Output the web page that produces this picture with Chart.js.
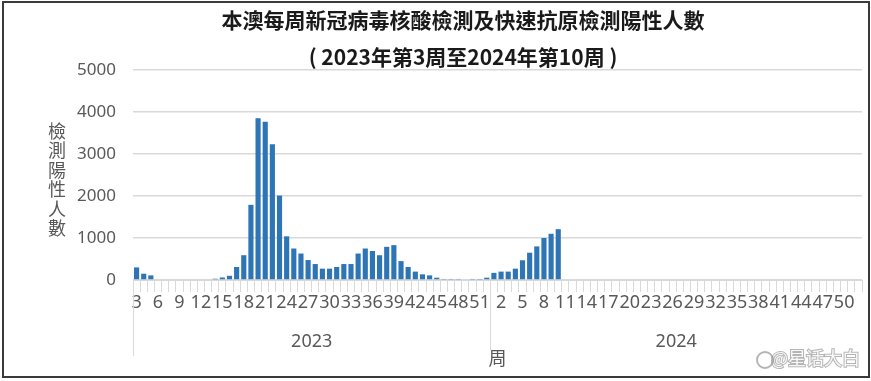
<!DOCTYPE html>
<html>
<head>
<meta charset="utf-8">
<script src="https://cdn.jsdelivr.net/npm/chart.js@4/dist/chart.umd.min.js"></script>
<style>
  html, body { margin: 0; padding: 0; background: #fff; }
  canvas { display: block; }
</style>
</head>
<body>
<canvas id="c" width="871" height="381"></canvas>
<script>
// Weekly positive counts (nucleic acid + rapid antigen tests), Macao
const weeks2023 = ['3','4','5','6','7','8','9','10','11','12','13','14','15','16','17','18','19','20','21','22','23','24','25','26','27','28','29','30','31','32','33','34','35','36','37','38','39','40','41','42','43','44','45','46','47','48','49','50','51','52'];
const weeks2024 = ['1','2','3','4','5','6','7','8','9','10','11','12','13','14','15','16','17','18','19','20','21','22','23','24','25','26','27','28','29','30','31','32','33','34','35','36','37','38','39','40','41','42','43','44','45','46','47','48','49','50','51','52'];

const positives2023 = [300, 150, 110, 0, 0, 0, 0, 0, 0, 0, 0, 30, 60, 100, 310, 590, 1790, 3850, 3770, 3230,
                       2010, 1040, 750, 630, 475, 380, 270, 270, 310, 380, 380, 630, 750, 690, 590, 790, 830, 450, 310, 200,
                       135, 110, 55, 25, 25, 25, 0, 25, 25, 55];
const positives2024 = [170, 200, 200, 270, 470, 650, 800, 1000, 1100, 1210];

const years = ['2023', '2024'];
const yMax = 5000;
const yStep = 1000;

const titleLines = ['本澳每周新冠病毒核酸檢測及快速抗原檢測陽性人數', '( 2023年第3周至2024年第10周 )'];
const yTitle = '檢測陽性人數';
const xTitle = '周';

const labels = weeks2023.concat(weeks2024);
const values = positives2023.concat(positives2024);
const groups = [weeks2023.length, weeks2024.length];

const CJK = '"Noto Sans CJK TC", "Noto Sans CJK SC", sans-serif';
const NUM = '"Noto Sans", "Liberation Sans", sans-serif';
const GRAY = '#595959';
const LINE = '#d9d9d9';

// Frame, titles, vertical axis title, year group row and divider lines
const decorations = {
  id: 'decorations',
  beforeDraw(chart) {
    const ctx = chart.ctx;
    ctx.save();
    ctx.fillStyle = '#fff';
    ctx.fillRect(0, 0, chart.width, chart.height);
    ctx.restore();
  },
  afterDraw(chart) {
    const ctx = chart.ctx;
    const xs = chart.scales.x;
    const area = chart.chartArea;
    ctx.save();

    // title block
    ctx.fillStyle = '#1a1a1a';
    ctx.textAlign = 'center';
    ctx.textBaseline = 'middle';
    ctx.font = 'bold 21px ' + CJK;
    ctx.fillText(titleLines[0], 463, 20);
    ctx.fillText(titleLines[1], 463, 57);

    // stacked vertical y-axis title
    ctx.fillStyle = GRAY;
    ctx.font = '18px ' + CJK;
    [...yTitle].forEach((ch, i) => ctx.fillText(ch, 57, 131 + i * 19.5));

    // group row: dividers and year labels
    ctx.strokeStyle = LINE;
    ctx.lineWidth = 1;
    const step = xs.getPixelForValue(1) - xs.getPixelForValue(0);
    let start = 0;
    const lineBottom = area.bottom + 76;
    const edges = [];
    groups.forEach((n) => {
      const a = xs.getPixelForValue(start) - step / 2;
      const b = xs.getPixelForValue(start + n - 1) + step / 2;
      edges.push([a, b]);
      start += n;
    });
    ctx.beginPath();
    ctx.moveTo(Math.round(edges[0][0]) + 0.5, area.bottom);
    ctx.lineTo(Math.round(edges[0][0]) + 0.5, lineBottom);
    ctx.moveTo(Math.round(edges[1][0]) + 0.5, area.bottom);
    ctx.lineTo(Math.round(edges[1][0]) + 0.5, lineBottom - 6);
    ctx.stroke();

    ctx.fillStyle = GRAY;
    ctx.font = '18px ' + NUM;
    edges.forEach(([a, b], i) => ctx.fillText(years[i], (a + b) / 2, area.bottom + 62));

    // watermark
    ctx.font = '18px ' + CJK;
    ctx.textAlign = 'right';
    ctx.lineWidth = 2;
    ctx.strokeStyle = 'rgba(120,120,120,0.55)';
    ctx.strokeText('@星话大白', 860, 358);
    ctx.fillStyle = 'rgba(255,255,255,0.9)';
    ctx.fillText('@星话大白', 860, 358);
    ctx.beginPath();
    ctx.strokeStyle = 'rgba(120,120,120,0.55)';
    ctx.arc(765, 360, 8, 0, Math.PI * 2);
    ctx.stroke();

    // outer frame
    ctx.strokeStyle = '#3a3a3a';
    ctx.lineWidth = 2;
    ctx.strokeRect(3, 2, chart.width - 5, chart.height - 6);
    ctx.restore();
  }
};

new Chart(document.getElementById('c'), {
  type: 'bar',
  data: {
    labels: labels,
    datasets: [{
      data: values,
      backgroundColor: '#2e75b6',
      barPercentage: 0.72,
      categoryPercentage: 1.0
    }]
  },
  options: {
    responsive: false,
    animation: false,
    devicePixelRatio: 1,
    layout: { padding: { top: 70, right: 9, left: 0, bottom: 0 } },
    plugins: {
      legend: { display: false },
      tooltip: { enabled: false },
      title: { display: false }
    },
    scales: {
      x: {
        offset: true,
        grid: { offset: true, drawOnChartArea: false, tickLength: 12, color: LINE, lineWidth: 1 },
        border: { display: true, color: LINE },
        ticks: {
          autoSkip: false,
          maxRotation: 0,
          minRotation: 0,
          padding: 0,
          color: GRAY,
          font: { family: NUM, size: 18 },
          callback: (v, i) => (i % 3 === 0 ? labels[i] : '')
        },
        title: {
          display: true,
          text: xTitle,
          color: GRAY,
          font: { family: CJK, size: 18 },
          padding: { top: 0, bottom: 12 }
        },
        afterFit: (s) => { s.height = 101; }
      },
      y: {
        min: 0,
        max: yMax,
        ticks: {
          stepSize: yStep,
          padding: 17,
          color: GRAY,
          font: { family: NUM, size: 17 },
          callback: (v) => String(v)
        },
        grid: { color: LINE, lineWidth: 1.5, drawTicks: false },
        border: { display: false },
        afterFit: (s) => { s.width = 133; }
      }
    }
  },
  plugins: [decorations]
});
</script>
</body>
</html>
